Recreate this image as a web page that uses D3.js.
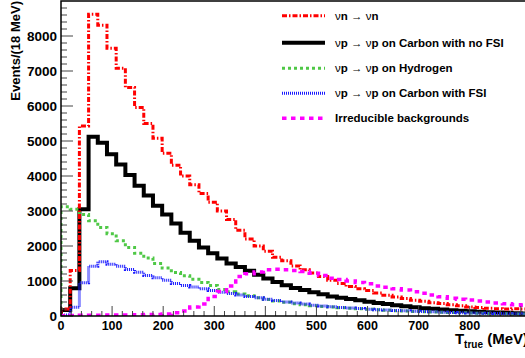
<!DOCTYPE html>
<html><head><meta charset="utf-8">
<script src="https://cdn.jsdelivr.net/npm/d3@7"></script>
<style>html,body{margin:0;padding:0;background:#fff;overflow:hidden}svg{display:block}</style>
</head><body>
<svg id="c" width="525" height="358"></svg>
<script>
const binWidth = 18;
const nuN = [200,1300,5430,8620,8310,7650,7080,6530,5960,5500,5080,4650,4310,4000,3750,3500,3250,3000,2760,2450,2200,2000,1850,1680,1580,1430,1320,1230,1130,1020,930,840,780,730,660,590,540,500,450,420,380,360,320,290,260,240,220,210,200,210,200];
const carbonNoFSI = [170,790,3050,5120,4950,4620,4330,4030,3720,3440,3150,2900,2640,2380,2150,1960,1790,1640,1500,1400,1290,1180,1070,970,880,800,740,680,620,560,520,485,450,410,370,340,310,280,250,225,205,185,165,150,135,120,110,100,90,80,75];
const hydrogen = [3120,3050,2900,2720,2530,2350,2150,1960,1790,1660,1500,1370,1240,1150,1050,960,870,760,690,630,580,520,470,430,390,350,320,295,275,255,235,220,205,192,178,165,153,143,132,122,113,105,98,90,84,78,72,67,62,58,54];
const carbonFSI = [30,250,950,1420,1550,1480,1420,1330,1250,1160,1090,1020,930,870,830,780,730,680,640,600,560,520,480,440,400,370,340,310,285,262,245,228,212,196,182,170,158,147,137,127,118,110,102,95,88,82,76,71,66,62,58];
const irreducible = [10,15,20,25,25,30,30,30,35,40,45,60,90,140,260,340,560,700,860,1130,1210,1260,1320,1335,1320,1300,1270,1220,1160,1080,1040,1000,960,920,860,820,780,740,690,650,600,550,510,480,460,430,400,370,350,320,310];
const xTickLabels = [0,100,200,300,400,500,600,700,800];
const yTickLabels = [0,1000,2000,3000,4000,5000,6000,7000,8000];
const legendLabels = [
  ["ν","n → ","ν","n"],
  ["ν","p → ","ν","p on Carbon with no FSI"],
  ["ν","p → ","ν","p on Hydrogen"],
  ["ν","p → ","ν","p on Carbon with FSI"],
  ["","Irreducible backgrounds","",""]
];

const series = [
  {data: carbonNoFSI, color:"#000000", width:4, dash:null, leg:1},
  {data: hydrogen, color:"#4fc846", width:3, dash:"3,3", leg:2},
  {data: carbonFSI, color:"#1a1aff", width:3, dash:"1,1", leg:3},
  {data: nuN, color:"#ff0000", width:3, dash:"5,2,1.5,2", leg:0},
  {data: irreducible, color:"#ff00ff", width:3.5, dash:"4.5,4.5", leg:4}
];

const svg = d3.select("#c");
const L = 61, B = 316, T = 1, R = 530;
const x = d3.scaleLinear().domain([0, 918]).range([L, R]);
const y = d3.scaleLinear().domain([0, 9000]).range([B, T]);
const font = "'Liberation Sans', Arial, Helvetica, sans-serif";

svg.append("defs").append("clipPath").attr("id","clip")
  .append("rect").attr("x",L).attr("y",T).attr("width",R-L).attr("height",B-T);

// histograms
const line = d3.line().x(d=>x(d[0])).y(d=>y(d[1]));
function pts(arr){
  const p = [[0,0]];
  arr.forEach((v,i)=>{ p.push([i*binWidth, v]); p.push([(i+1)*binWidth, v]); });
  p.push([arr.length*binWidth, 0]);
  return p;
}
const g = svg.append("g").attr("clip-path","url(#clip)");
series.forEach(s=>{
  g.append("path").attr("d", line(pts(s.data))).attr("fill","none")
    .attr("stroke", s.color).attr("stroke-width", s.width)
    .attr("stroke-dasharray", s.dash).attr("stroke-linejoin","miter");
});

// axes ticks (inside)
const ax = svg.append("g").attr("stroke","#444").attr("stroke-width",1);
d3.range(0, 920, 20).forEach(v=>{
  const major = v % 100 === 0;
  ax.append("line").attr("x1",x(v)).attr("x2",x(v)).attr("y1",B).attr("y2",B-(major?10:5));
});
d3.range(0, 9000, 200).forEach(v=>{
  const major = v % 1000 === 0;
  ax.append("line").attr("x1",L).attr("x2",L+(major?12:6)).attr("y1",y(v)).attr("y2",y(v));
});
// frame
svg.append("path").attr("d",`M${R},${T}H${L}V${B}H${R}`).attr("fill","none").attr("stroke","#000").attr("stroke-width",1.5);

// tick labels
svg.append("g").selectAll("text").data(xTickLabels).join("text")
  .attr("x",d=>x(d)).attr("y",329.5).attr("text-anchor","middle")
  .attr("font-family",font).attr("font-weight","bold").attr("font-size",12.5).text(d=>d);
svg.append("g").selectAll("text").data(yTickLabels).join("text")
  .attr("x",57).attr("y",d=>y(d)).attr("dy","0.36em").attr("text-anchor","end")
  .attr("font-family",font).attr("font-weight","bold").attr("font-size",13.5).text(d=>d);

// axis titles
svg.append("text").attr("transform","translate(19.5,1) rotate(-90)").attr("text-anchor","end")
  .attr("font-family",font).attr("font-weight","bold").attr("font-size",13).text("Events/(18 MeV)");
const xt = svg.append("text").attr("x",528).attr("y",343.5).attr("text-anchor","end")
  .attr("font-family",font).attr("font-weight","bold").attr("font-size",15);
xt.append("tspan").text("T");
xt.append("tspan").attr("font-size",10).attr("dy",4.5).text("true");
xt.append("tspan").attr("dy",-4.5).text(" (MeV)");

// legend
const legY = [15.7, 42.7, 68.3, 93.3, 118.3];
series.forEach(s=>{
  const yy = legY[s.leg];
  svg.append("line").attr("x1",282).attr("x2",325).attr("y1",yy).attr("y2",yy)
    .attr("stroke",s.color).attr("stroke-width",s.width).attr("stroke-dasharray",s.dash);
  const parts = legendLabels[s.leg];
  const t = svg.append("text").attr("x",335).attr("y",yy).attr("dy","0.36em")
    .attr("font-family",font).attr("font-size",11.5);
  t.append("tspan").attr("font-weight","normal").text(parts[0]);
  t.append("tspan").attr("font-weight","bold").text(parts[1].replace(" → ",""));
  if (parts[1].includes("→")) t.append("tspan").attr("font-weight","normal").text(" → ");
  t.append("tspan").attr("font-weight","normal").text(parts[2]);
  t.append("tspan").attr("font-weight","bold").text(parts[3]);
});
</script>
</body></html>
